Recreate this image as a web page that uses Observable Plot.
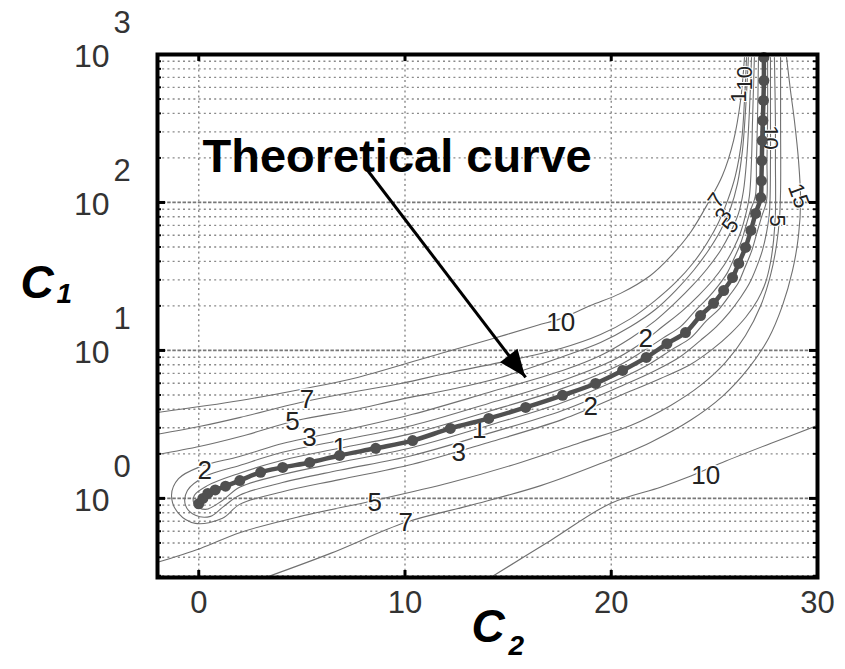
<!DOCTYPE html>
<html><head><meta charset="utf-8">
<script src="https://cdn.jsdelivr.net/npm/d3@7"></script>
<script src="https://cdn.jsdelivr.net/npm/@observablehq/plot@0.6"></script>
<style>body{margin:0;background:#fff}#chart{width:845px;height:669px}</style>
</head><body><div id="chart"></div>
<script>
// ---- axes / ticks ----
const xTickValues = [0, 10, 20, 30];
const xTickLabels = ["0", "10", "20", "30"];
const xGridValues = [0, 10, 20];
const yDecades = [1, 10, 100, 1000];
const yExponents = ["0", "1", "2", "3"];
const yMinorGrid = [0.3,0.4,0.5,0.6,0.7,0.8,0.9,2,3,4,5,6,7,8,9,20,30,40,50,60,70,80,90,200,300,400,500,600,700,800,900];

// ---- theoretical curve (C2, C1) ----
const mainCurve = [[0,0.92],[0.2,1.0],[0.44,1.08],[0.8,1.14],[1.3,1.21],[1.99,1.32],[3.0,1.5],[4.07,1.62],[5.38,1.75],[6.83,1.95],[8.58,2.18],[10.37,2.46],[12.2,2.97],[14.06,3.47],[15.85,4.12],[17.64,4.97],[19.24,5.98],[20.55,7.32],[21.7,8.97],[22.7,11.1],[23.6,13.2],[24.33,17.2],[24.96,20.8],[25.45,25.4],[25.88,31.1],[26.18,38.7],[26.51,49.7],[26.77,64.7],[27.0,84.3],[27.25,108],[27.28,140],[27.3,192],[27.32,262],[27.35,358],[27.38,489],[27.4,667],[27.4,955]];

// ---- contour lines (level sets) ----
const level1 = [[27.14,955],[27.09,358],[27.04,192],[26.99,111],[26.75,88.3],[26.51,67.8],[26.27,52.8],[25.93,41.2],[25.64,33.7],[25.20,27.5],[24.71,22.8],[24.08,18.6],[23.36,14.5],[22.54,12.2],[21.52,9.85],[20.55,8.17],[17.64,5.54],[14.05,3.87],[10.36,2.75],[6.82,2.18],[4.06,1.81],[1.98,1.48],[0.42,1.22],[-0.21,1.05],[-0.21,0.911],[0.33,0.843],[1.15,0.969],[1.98,1.19],[4.06,1.45],[6.82,1.75],[10.36,2.21],[14.05,3.11],[17.64,4.45],[20.55,6.57],[21.90,8.17],[22.97,10.2],[23.84,12.1],[24.62,15.9],[25.25,19.2],[25.73,23.5],[26.17,28.8],[26.46,35.8],[26.80,46.7],[27.04,60.8],[27.28,79.2],[27.53,103],[27.55,192],[27.58,358],[27.58,955]];
const level2 = [[26.94,955],[26.85,358],[26.80,192],[26.70,111],[26.51,81.7],[26.27,62.7],[25.93,48.9],[25.49,38.1],[24.91,29.7],[24.23,23.5],[23.46,18.6],[22.49,14.5],[21.42,11.1],[20.06,8.56],[17.64,6.27],[14.05,4.38],[10.36,3.11],[6.82,2.46],[4.06,2.05],[1.98,1.67],[0.33,1.41],[-0.55,1.13],[-0.64,0.897],[-0.16,0.768],[0.57,0.756],[1.15,0.869],[1.98,1.05],[4.06,1.28],[6.82,1.55],[10.36,1.95],[14.05,2.75],[17.64,3.93],[20.55,5.80],[22.14,7.32],[23.36,9.11],[24.33,11.7],[25.10,14.5],[25.73,18.1],[26.27,22.8],[26.70,28.4],[27.04,36.4],[27.33,47.4],[27.53,62.7],[27.67,85.5],[27.72,192],[27.72,358],[27.72,955]];
const level3 = [[26.80,955],[26.70,419],[26.56,192],[26.41,120],[26.17,84.3],[25.78,62.7],[25.30,47.4],[24.66,35.8],[23.94,27.5],[23.12,21.1],[22.14,15.9],[20.94,12.1],[19.48,9.25],[17.64,7.32],[14.05,5.20],[10.36,3.70],[6.82,2.84],[5.37,2.58],[4.06,2.35],[1.98,1.92],[0.08,1.64],[-0.98,1.36],[-1.32,1.05],[-0.98,0.792],[-0.16,0.678],[1.15,0.733],[1.98,0.911],[4.06,1.11],[6.82,1.34],[10.36,1.70],[14.05,2.39],[17.64,3.42],[20.55,5.04],[22.39,6.47],[23.84,8.04],[24.91,10.2],[25.78,13.0],[26.51,16.7],[27.09,21.8],[27.48,28.8],[27.72,39.3],[27.87,55.4],[27.96,85.5],[27.96,192],[27.96,358],[27.91,955]];
const level5Upper = [[26.65,955],[26.51,419],[26.36,224],[26.12,134],[25.78,91.0],[25.30,64.7],[24.71,47.4],[23.99,34.7],[23.12,25.4],[22.14,18.9],[20.94,14.5],[19.48,11.3],[17.55,8.97],[14.64,6.57],[12.21,5.45],[9.79,4.67],[7.36,3.93],[4.79,3.37],[2.02,2.62],[0.08,2.25],[-2.0,1.98]];
const level5Lower = [[-2.0,0.370],[0.08,0.459],[2.02,0.589],[4.93,0.756],[8.52,0.969],[12.21,1.28],[15.61,1.75],[18.51,2.39],[20.94,3.11],[22.88,4.25],[24.33,5.80],[25.54,8.30],[26.51,12.6],[27.25,20.1],[27.72,32.1],[28.01,51.2],[28.16,79.2],[28.21,120],[28.21,358],[28.21,955]];
const level7Upper = [[26.56,955],[26.46,489],[26.32,262],[26.02,152],[25.64,103],[25.20,73.3],[24.66,53.7],[23.99,39.3],[23.12,28.8],[22.14,21.8],[20.94,16.4],[19.48,12.8],[17.55,10.3],[14.64,8.30],[12.21,7.10],[9.79,5.98],[7.36,5.20],[4.93,4.45],[2.02,3.53],[0.08,3.07],[-2.0,2.71]];
const level7Lower = [[3.24,0.292],[6.39,0.425],[10.04,0.689],[13.17,0.897],[16.58,1.22],[19.48,1.72],[21.90,2.39],[23.84,3.37],[25.39,4.89],[26.65,7.56],[27.63,12.1],[28.30,20.1],[28.79,34.7],[29.08,59.8],[29.18,103],[29.08,192],[28.88,358],[28.69,571],[28.50,955]];
const level10Upper = [[26.46,955],[26.27,489],[25.93,262],[25.39,152],[24.71,100],[23.84,62.7],[22.88,43.2],[21.90,32.1],[20.45,24.3],[18.99,20.1],[17.55,16.4],[16.43,14.8],[14.15,11.9],[11.72,9.54],[7.70,6.57],[4.93,5.45],[2.02,4.59],[-2.0,3.81]];
const level10Lower = [[14.15,0.292],[17.06,0.520],[19.96,0.925],[22.39,1.19],[23.70,1.39],[25.39,1.75],[27.72,2.35],[30.0,3.11]];

const contourSets = [level1, level2, level3, level5Upper, level5Lower, level7Upper, level7Lower, level10Upper, level10Lower];
const contourRows = contourSets.flatMap((pts, i) => pts.map(([x, y]) => ({x, y, id: i})));

// ---- contour labels ----
const labelX = [17.55,24.58,0.29,4.55,5.25,5.37,6.83,13.6,12.6,19.0,21.67,8.53,10.03,25.1,25.44,25.78,28.05,29.08,26.5,26.2,27.72];
const labelY = [15.5,1.43,1.55,3.3,4.65,2.58,2.21,2.9,2.05,4.15,12.0,0.94,0.69,103,81.7,70,75.5,111,690,520,275];
const labelText = ["10","10","2","5","7","3","1","1","3","2","2","5","7","7","3","5","5","15","10","1","10"];
const labelAngle = [0,0,0,0,0,0,0,0,0,0,0,0,0,-55,-55,-55,90,70,-90,-90,90];
const labelRows = labelText.map((t, i) => ({x: labelX[i], y: labelY[i], t, r: labelAngle[i], small: labelAngle[i] !== 0}));

// ---- annotation ----
const annotationText = "Theoretical curve";
const arrowFrom = [8.19, 164.5];
const arrowTo = [15.85, 6.57];

const font = "'Liberation Sans', Arial, Helvetica, sans-serif";
const frameW = 660;

const chart = Plot.plot({
  width: 845, height: 669,
  marginTop: 54, marginRight: 28, marginBottom: 92, marginLeft: 157,
  style: {fontFamily: font, background: "white"},
  x: {domain: [-2, 30], axis: null},
  y: {type: "log", domain: [0.292, 1000], axis: null},
  marks: [
    // grid
    Plot.ruleY(yMinorGrid, {y: d => d, stroke: "#8a8a8a", strokeWidth: 1.4, strokeDasharray: "2,3.2"}),
    Plot.ruleY(yDecades, {y: d => d, stroke: "#777", strokeWidth: 1.8, strokeDasharray: "3.5,1.6"}),
    Plot.ruleX(xGridValues, {x: d => d, stroke: "#8a8a8a", strokeWidth: 1.4, strokeDasharray: "2,3.2"}),
    // contour lines
    Plot.line(contourRows, {x: "x", y: "y", z: "id", stroke: "#707070", strokeWidth: 1.1, curve: "catmull-rom", clip: true}),
    // contour labels
    Plot.text(labelRows.filter(d => !d.small), {x: "x", y: "y", text: "t", fontSize: 26, fill: "#222", stroke: "white", strokeWidth: 3}),
    Plot.text(labelRows.filter(d => d.small), {x: "x", y: "y", text: "t", rotate: "r", fontSize: 22, fill: "#222", stroke: "white", strokeWidth: 2}),
    // theoretical curve
    Plot.line(mainCurve, {x: d => d[0], y: d => d[1], stroke: "#505050", strokeWidth: 4.5, curve: "catmull-rom"}),
    Plot.dot(mainCurve, {x: d => d[0], y: d => d[1], r: 5.5, fill: "#505050"}),
    // annotation arrow shaft
    Plot.link([0], {x1: () => arrowFrom[0], y1: () => arrowFrom[1], x2: () => arrowTo[0], y2: () => arrowTo[1], stroke: "black", strokeWidth: 3}),
    Plot.text([annotationText], {text: d => d, frameAnchor: "top-left", dx: 45, dy: 84, textAnchor: "start", fontSize: 47, fontWeight: "bold", fill: "black"}),
    // frame and inward ticks
    Plot.frame({stroke: "black", strokeWidth: 4}),
    Plot.ruleX(xGridValues, {x: d => d, insetTop: 516, stroke: "black", strokeWidth: 3}),
    Plot.ruleX(xGridValues, {x: d => d, insetBottom: 516, stroke: "black", strokeWidth: 3}),
    Plot.ruleY(yMinorGrid, {y: d => d, insetRight: frameW - 4, stroke: "black", strokeWidth: 2}),
    Plot.ruleY(yMinorGrid, {y: d => d, insetLeft: frameW - 4, stroke: "black", strokeWidth: 2}),
    Plot.ruleY(yDecades, {y: d => d, insetRight: frameW - 8, stroke: "black", strokeWidth: 3}),
    Plot.ruleY(yDecades, {y: d => d, insetLeft: frameW - 8, stroke: "black", strokeWidth: 3}),
    // tick labels
    Plot.text(xTickValues, {x: d => d, text: (d, i) => xTickLabels[i], frameAnchor: "bottom", dy: 35, fontSize: 31, fill: "#333"}),
    Plot.text(yDecades, {y: d => d, text: () => "10", frameAnchor: "left", dx: -48, dy: 2, textAnchor: "end", fontSize: 32, fill: "#333"}),
    Plot.text(yDecades, {y: d => d, text: (d, i) => yExponents[i], frameAnchor: "left", dx: -44, dy: -31, textAnchor: "start", fontSize: 31, fill: "#333"}),
    // axis titles
    Plot.text(["C"], {text: d => d, frameAnchor: "left", dx: -137, dy: -33, textAnchor: "start", fontSize: 46, fontWeight: "bold", fontStyle: "italic", fill: "black"}),
    Plot.text(["1"], {text: d => d, frameAnchor: "left", dx: -101, dy: -22, textAnchor: "start", fontSize: 28, fontWeight: "bold", fontStyle: "italic", fill: "black"}),
    Plot.text(["C"], {text: d => d, frameAnchor: "bottom", dx: -16, dy: 64, textAnchor: "start", fontSize: 46, fontWeight: "bold", fontStyle: "italic", fill: "black"}),
    Plot.text(["2"], {text: d => d, frameAnchor: "bottom", dx: 21, dy: 77, textAnchor: "start", fontSize: 28, fontWeight: "bold", fontStyle: "italic", fill: "black"})
  ]
});

// filled arrow head, placed through the chart's own scales
const sx = chart.scale("x"), sy = chart.scale("y");
const px0 = sx.apply(arrowFrom[0]), py0 = sy.apply(arrowFrom[1]);
const px1 = sx.apply(arrowTo[0]), py1 = sy.apply(arrowTo[1]);
const len = Math.hypot(px1 - px0, py1 - py0);
const ux = (px1 - px0) / len, uy = (py1 - py0) / len;
const headL = 27, headW = 11;
const bx = px1 - ux * headL, by = py1 - uy * headL;
d3.select(chart).append("polygon")
  .attr("points", [[px1, py1], [bx - uy * headW, by + ux * headW], [bx + uy * headW, by - ux * headW]].map(p => p.join(",")).join(" "))
  .attr("fill", "black");

document.getElementById("chart").appendChild(chart);
</script>
</body></html>
